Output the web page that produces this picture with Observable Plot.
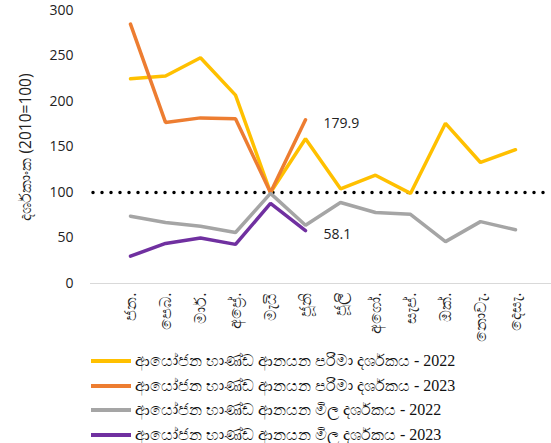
<!DOCTYPE html>
<html>
<head>
<meta charset="utf-8">
<script src="https://cdn.jsdelivr.net/npm/d3@7"></script>
<script src="https://cdn.jsdelivr.net/npm/@observablehq/plot@0.6"></script>
<style>
  body { margin: 0; background: #fff; font-family: "Open Sans", "Noto Sans", sans-serif; }
  #chart { width: 551px; height: 443px; position: relative; }
  .legend { margin-left: 91px; margin-top: 4px; }
  .legend .row { display: flex; align-items: center; height: 24.5px; font-size: 16px; color: #111; font-family: "Liberation Serif", "Noto Sans", serif; }
  .legend .sw { width: 40px; height: 4px; margin-right: 4px; }
</style>
</head>
<body>
<div id="chart"></div>
<script>
const months = ["ජන.", "පෙබ.", "මාර්.", "අප්‍රේ.", "මැයි", "ජූනි", "ජූලි", "අගෝ.", "සැප්.", "ඔක්.", "නොවැ.", "දෙසැ."];
const volume2022 = [225, 228, 248, 207, 100, 159, 104, 119, 99, 176, 133, 147];
const volume2023 = [285, 177, 182, 181, 100, 179.9];
const price2022 = [74, 67, 63, 56, 99, 64, 89, 78, 76, 46, 68, 59];
const price2023 = [30, 44, 50, 43, 88, 58.1];
const seriesNames = [
  "ආයෝජන භාණ්ඩ ආනයන පරිමා දර්ශකය - 2022",
  "ආයෝජන භාණ්ඩ ආනයන පරිමා දර්ශකය - 2023",
  "ආයෝජන භාණ්ඩ ආනයන මිල දර්ශකය - 2022",
  "ආයෝජන භාණ්ඩ ආනයන මිල දර්ශකය - 2023"
];
const colors = ["#FFC000", "#ED7D31", "#A5A5A5", "#7030A0"];
const yTicks = [0, 50, 100, 150, 200, 250, 300];
const baseLine = [100];
const yLabel = "දර්ශකාංක (2010=100)";

const allSeries = [volume2022, volume2023, price2022, price2023];
const rows = [];
allSeries.forEach((vals, s) => vals.forEach((v, i) => rows.push({month: months[i], value: v, series: seriesNames[s]})));
const lastLabels = [
  {month: months[volume2023.length - 1], value: volume2023[volume2023.length - 1]},
  {month: months[price2023.length - 1], value: price2023[price2023.length - 1]}
];

const plot = Plot.plot({
  width: 551,
  height: 345,
  marginLeft: 90,
  marginRight: 0,
  marginTop: 10,
  marginBottom: 62,
  style: {fontFamily: "'Open Sans', 'Noto Sans', sans-serif", fontSize: "13px", color: "#222"},
  x: {type: "point", domain: months, range: [109, 535]},
  y: {domain: [0, 300], range: [283, 10]},
  color: {domain: seriesNames, range: colors},
  marks: [
    Plot.ruleY([0], {stroke: "#d9d9d9", strokeWidth: 1}),
    Plot.axisY({ticks: yTicks, tickSize: 0, tickPadding: 17, label: yLabel, labelAnchor: "center", labelOffset: 71, labelArrow: "none", fontSize: 14}),
    Plot.axisX({tickSize: 0, tickPadding: 9, tickRotate: -90, label: null, fontSize: 16}),
    Plot.ruleY(baseLine, {stroke: "#000", strokeWidth: 3.5, strokeDasharray: "0,9", strokeLinecap: "round", insetLeft: 3, insetRight: 6}),
    Plot.line(rows, {x: "month", y: "value", z: "series", stroke: "series", strokeWidth: 3.5, strokeLinejoin: "miter", strokeLinecap: "round"}),
    Plot.text(lastLabels, {x: "month", y: "value", text: d => String(d.value), textAnchor: "start", dx: 18, dy: 4, fontSize: 14, fill: "#222"})
  ]
});
document.getElementById("chart").appendChild(plot);
// enlarge the rotated axis title slightly
d3.select(plot).selectAll("[aria-label='y-axis label'] text").attr("font-size", 15.5);

const legend = document.createElement("div");
legend.className = "legend";
seriesNames.forEach((name, i) => {
  const row = document.createElement("div");
  row.className = "row";
  const sw = document.createElement("span");
  sw.className = "sw";
  sw.style.background = colors[i];
  const label = document.createElement("span");
  label.textContent = name;
  row.appendChild(sw);
  row.appendChild(label);
  legend.appendChild(row);
});
document.getElementById("chart").appendChild(legend);
</script>
</body>
</html>
